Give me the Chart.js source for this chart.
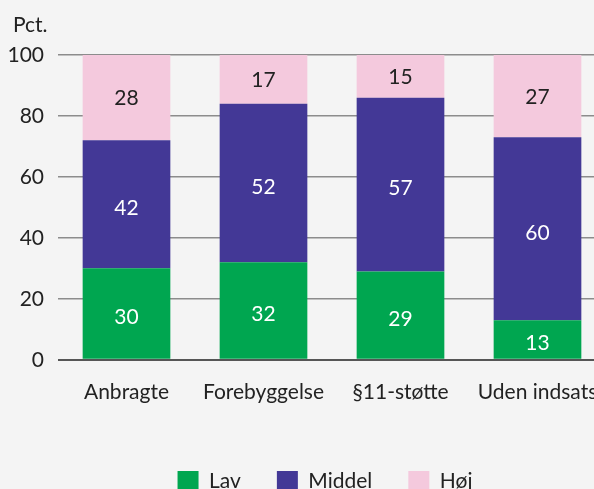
<!DOCTYPE html>
<html>
<head>
<meta charset="utf-8">
<script src="https://cdn.jsdelivr.net/npm/chart.js"></script>
<style>
    html, body { margin: 0; padding: 0; background: #f4f4f4; overflow: hidden; }
    #wrap { position: relative; width: 620px; height: 502px; }
</style>
</head>
<body>
<div id="wrap"><canvas id="grafico"></canvas></div>
<script>
// data
const kategorier = ['Anbragte', 'Forebyggelse', '§11-støtte', 'Uden indsats'];
const lav = [30, 32, 29, 13];
const middel = [42, 52, 57, 60];
const hoej = [28, 17, 15, 27];
const yTicks = [0, 20, 40, 60, 80, 100];

const FONT = 'Lato, "DejaVu Sans", sans-serif';
const TEKST = '#222222';

// tal midt i hver del af søjlen
const vaerdiPlugin = {
    id: 'vaerdier',
    afterDatasetsDraw(chart) {
        const ctx = chart.ctx;
        ctx.save();
        ctx.font = '21px ' + FONT;
        ctx.textAlign = 'center';
        ctx.textBaseline = 'middle';
        chart.data.datasets.forEach((ds, i) => {
            const meta = chart.getDatasetMeta(i);
            meta.data.forEach((bar, j) => {
                const top = Math.max(bar.y, chart.chartArea.top);
                const dy = i === 2 ? 1 : 4;
                ctx.fillStyle = i === 2 ? TEKST : '#ffffff';
                ctx.fillText(String(ds.data[j]), bar.x, (top + bar.base) / 2 + dy);
            });
        });
        ctx.restore();
    }
};

// "Pct." over y-aksen, og forklaringen lidt mod højre
const enhedPlugin = {
    id: 'enhed',
    afterLayout(chart) {
        chart.legend.left += 18;
        chart.legend.right += 18;
    },
    afterDraw(chart) {
        const ctx = chart.ctx;
        ctx.save();
        ctx.font = '21px ' + FONT;
        ctx.fillStyle = TEKST;
        ctx.textAlign = 'left';
        ctx.textBaseline = 'middle';
        ctx.fillText('Pct.', 13, chart.chartArea.top - 30);
        ctx.restore();
    }
};

new Chart(document.getElementById('grafico'), {
    type: 'bar',
    data: {
        labels: kategorier,
        datasets: [
            { label: 'Lav', data: lav, backgroundColor: '#00a650' },
            { label: 'Middel', data: middel, backgroundColor: '#433896' },
            { label: 'Høj', data: hoej, backgroundColor: '#f4c9dd' }
        ]
    },
    options: {
        responsive: true,
        maintainAspectRatio: false,
        animation: false,
        layout: { padding: { left: 8, right: 14, top: 55, bottom: 0 } },
        datasets: { bar: { categoryPercentage: 1, barPercentage: 0.64 } },
        scales: {
            x: {
                stacked: true,
                grid: { display: false },
                border: { display: false },
                ticks: { color: TEKST, font: { family: FONT, size: 21 }, padding: 12, maxRotation: 0 },
                afterFit: axis => { axis.height += 18; }
            },
            y: {
                stacked: true,
                min: 0,
                max: 100,
                afterBuildTicks: axis => { axis.ticks = yTicks.map(v => ({ value: v })); },
                afterFit: axis => { axis.width = 50; },
                grid: {
                    drawTicks: false,
                    color: c => c.tick.value === 0 ? '#555555' : '#8c8c8c',
                    lineWidth: c => c.tick.value === 0 ? 2 : 1.5
                },
                border: { display: false },
                ticks: { color: TEKST, font: { family: FONT, size: 21 }, padding: 14 }
            }
        },
        plugins: {
            legend: {
                position: 'bottom',
                labels: {
                    color: TEKST,
                    font: { family: FONT, size: 21 },
                    boxWidth: 21,
                    boxHeight: 21,
                    padding: 36,
                    useBorderRadius: false
                }
            },
            tooltip: { enabled: false }
        }
    },
    plugins: [vaerdiPlugin, enhedPlugin]
});
</script>
</body>
</html>
